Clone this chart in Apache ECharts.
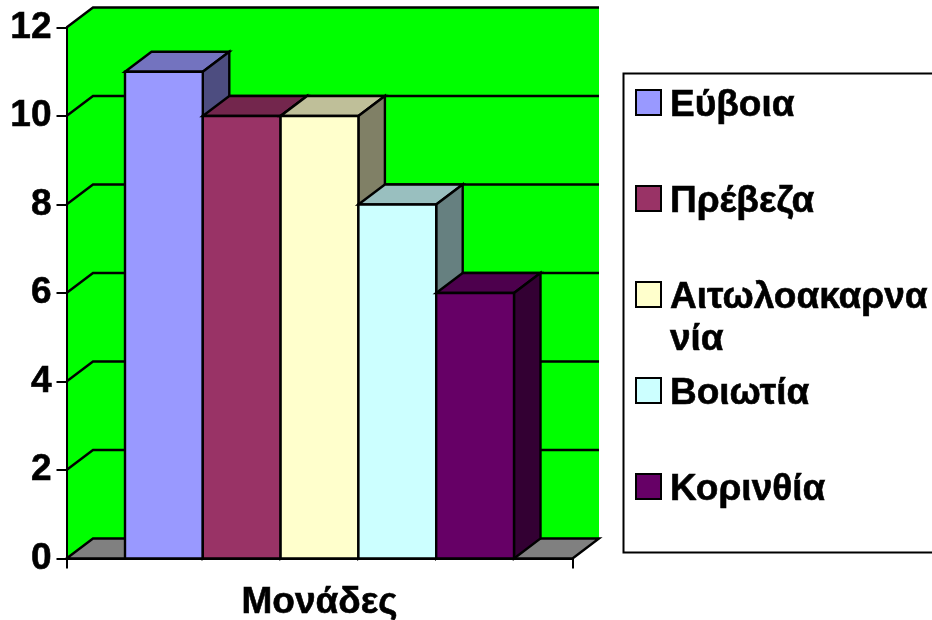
<!DOCTYPE html>
<html>
<head>
<meta charset="utf-8">
<style>html,body{margin:0;padding:0;background:#fff}#c{width:932px;height:620px}</style>
<script src="https://cdn.jsdelivr.net/npm/echarts@6/dist/echarts.min.js"></script>
</head>
<body>
<div id="c"></div>
<script>
const categories = ['Μονάδες'];
const seriesNames = ['Εύβοια', 'Πρέβεζα', 'Αιτωλοακαρνανία', 'Βοιωτία', 'Κορινθία'];
const seriesValues = [11, 10, 10, 8, 6];
const seriesColors = ['#9999FF', '#993366', '#FFFFCC', '#CCFFFF', '#660066'];
const gridValues = [2, 4, 6, 8, 10, 12];
const legendCenters = [102.5, 198.5, 294.5, 390.5, 486.5];

const DX = 26.5, DY = 20, BAR_FRACTION = 77.8 / 506;
const LINE = { stroke: '#000', lineWidth: 2.4, lineJoin: 'miter' };
const FONT = 'Liberation Sans';
const TEXT = { fontFamily: FONT, fontWeight: 'bold', fontSize: 37, color: '#000', textBorderColor: '#000', textBorderWidth: 0.6 };

function shade(hex, k) {
  const n = parseInt(hex.slice(1), 16);
  const c = s => Math.round(((n >> s) & 255) * k);
  return `rgb(${c(16)},${c(8)},${c(0)})`;
}
function poly(points, fill, stroke) {
  return { type: 'polygon', shape: { points }, style: Object.assign({ fill }, stroke === false ? {} : LINE) };
}
function seg(points) {
  return { type: 'polyline', shape: { points }, style: Object.assign({ fill: null }, LINE) };
}

function renderFrame(params, api) {
  const band = api.size([1, 0])[0];
  const c = api.coord([0, 0]);
  const top = api.coord([0, 12])[1];
  const x0 = c[0] - band / 2, x1 = c[0] + band / 2, y0 = c[1];
  const children = [
    poly([[x0 + DX, top - DY], [x1 + DX, top - DY], [x1 + DX, y0 - DY], [x0 + DX, y0 - DY]], '#00FF00', false),
    poly([[x0, top], [x0 + DX, top - DY], [x0 + DX, y0 - DY], [x0, y0]], '#00FF00', false),
    poly([[x0, y0], [x0 + DX, y0 - DY], [x1 + DX, y0 - DY], [x1, y0]], '#808080')
  ];
  gridValues.forEach(v => {
    const y = api.coord([0, v])[1];
    children.push(seg([[x0, y], [x0 + DX, y - DY], [x1 + DX, y - DY]]));
  });
  return { type: 'group', children };
}

function renderBar(params, api) {
  const i = params.seriesIndex - 1;
  const band = api.size([1, 0])[0];
  const w = band * BAR_FRACTION;
  const c = api.coord([0, api.value(1)]);
  const base = api.coord([0, 0])[1];
  const l = c[0] - 2.5 * w + i * w, r = l + w, t = c[1];
  const col = seriesColors[i];
  return {
    type: 'group',
    children: [
      poly([[l, t], [l + DX, t - DY], [r + DX, t - DY], [r, t]], shade(col, 0.75)),
      poly([[r, t], [r + DX, t - DY], [r + DX, base - DY], [r, base]], shade(col, 0.5)),
      poly([[l, t], [r, t], [r, base], [l, base]], col)
    ]
  };
}

const series = [{
  name: 'frame', type: 'custom', renderItem: renderFrame, clip: false, silent: true,
  data: [[0, 0]], encode: { x: 0, y: 1 }, z: 1
}].concat(seriesNames.map((name, i) => ({
  name, type: 'custom', renderItem: renderBar, clip: false,
  itemStyle: { color: seriesColors[i] },
  data: [[0, seriesValues[i]]], encode: { x: 0, y: 1 }, z: 2
})));

const legendLabel = { 'Αιτωλοακαρνανία': '{s| }\n{a| }\n{a|Αιτωλοακαρνα}\n{a|νία}' };
const legend = seriesNames.map((name, i) => {
  const multi = !!legendLabel[name];
  return {
    data: [name], left: 635, top: multi ? legendCenters[i] - 66 : legendCenters[i] - 24, padding: 0,
    icon: 'rect', itemWidth: 25, itemHeight: 25, selectedMode: false, orient: 'vertical',
    itemStyle: { borderColor: '#000', borderWidth: 2 },
    formatter: n => legendLabel[n] || `{s| }\n{a|${n}}`,
    textStyle: Object.assign({ padding: [0, 0, 0, 4], rich: {
      s: { lineHeight: 6, height: 6, fontSize: 1 },
      a: Object.assign({ lineHeight: 42 }, TEXT)
    } }, TEXT)
  };
});

const chart = echarts.init(document.getElementById('c'), null, { renderer: 'canvas' });
chart.setOption({
  animation: false,
  backgroundColor: '#fff',
  grid: { left: 66.5, top: 27.5, width: 506, height: 531, containLabel: false, outerBoundsMode: 'none' },
  xAxis: {
    type: 'category', data: categories, z: 10,
    axisLine: { lineStyle: { color: '#000', width: 2 } },
    axisTick: { show: true, length: 10, lineStyle: { color: '#000', width: 2 }, alignWithLabel: false },
    axisLabel: Object.assign({ margin: 26 }, TEXT)
  },
  yAxis: {
    type: 'value', min: 0, max: 12, interval: 2, z: 10,
    axisLine: { show: true, lineStyle: { color: '#000', width: 2 } },
    axisTick: { show: true, length: 10, lineStyle: { color: '#000', width: 2 } },
    axisLabel: Object.assign({ margin: 15 }, TEXT),
    splitLine: { show: false }
  },
  legend,
  graphic: [{
    type: 'rect', silent: true, z: -1,
    shape: { x: 623.5, y: 73.5, width: 320, height: 479 },
    style: { fill: '#fff', stroke: '#000', lineWidth: 2 }
  }],
  series
});
</script>
</body>
</html>
